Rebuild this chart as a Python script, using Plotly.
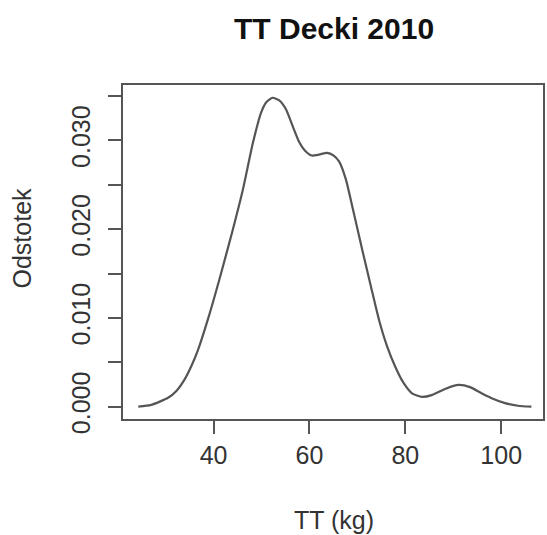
import plotly.graph_objects as go

# density curve
tt_kg = [24.3, 27.0, 30.5, 32.3, 34.0, 35.4, 36.7, 38.8, 41.2, 44.0, 46.1, 48.2,
         49.9, 51.0, 52.3, 53.7, 55.1, 56.5, 57.7, 59.0, 60.5, 62.0, 63.7, 65.0,
         66.2, 67.6, 69.0, 71.0, 72.8, 74.5, 76.2, 77.9, 79.6, 81.4, 83.5, 85.5,
         88.3, 91.1, 93.5, 95.9, 98.0, 100.8, 103.5, 106.3]
density = [0.0000, 0.0002, 0.0010, 0.0018, 0.0031, 0.0046, 0.0063, 0.0098, 0.0143,
           0.0199, 0.0244, 0.0297, 0.0331, 0.0343, 0.0348, 0.0345, 0.0335, 0.0316,
           0.0300, 0.0289, 0.0283, 0.0284, 0.0286, 0.0283, 0.0276, 0.0256, 0.0224,
           0.0177, 0.0136, 0.0098, 0.0068, 0.0045, 0.0027, 0.0015, 0.0011, 0.0013,
           0.0020, 0.00245, 0.0022, 0.0015, 0.00095, 0.0004, 0.0001, 0.0000]

x_ticks = [40, 60, 80, 100]
y_ticks = [0.000, 0.005, 0.010, 0.015, 0.020, 0.025, 0.030, 0.035]
y_labels = ["0.000", "", "0.010", "", "0.020", "", "0.030", ""]

title_text = "TT Decki 2010"
x_title = "TT (kg)"
y_title = "Odstotek"

FONT = "Liberation Sans, Arial, Helvetica, sans-serif"
AXC = "#555555"

fig = go.Figure()
fig.add_trace(go.Scatter(x=tt_kg, y=density, mode="lines",
                         line=dict(color="#555555", width=2.2, shape="spline", smoothing=0.6),
                         showlegend=False, hoverinfo="skip"))

fig.update_layout(
    width=547, height=535,
    margin=dict(l=123, r=2, t=85, b=116),
    paper_bgcolor="white", plot_bgcolor="white",
    font=dict(family=FONT, size=25, color="#333333"),
    xaxis=dict(range=[21.11, 108.72], tickvals=x_ticks, ticktext=[str(v) for v in x_ticks],
               showgrid=False, zeroline=False, showline=True, mirror=True,
               linecolor=AXC, linewidth=1.5, ticks="outside", ticklen=13,
               tickwidth=1.5, tickcolor=AXC, tickfont=dict(size=25, color="#333333")),
    yaxis=dict(range=[-0.00139, 0.03624], tickvals=y_ticks, ticktext=y_labels,
               showgrid=False, zeroline=False, showline=True, mirror=True,
               linecolor=AXC, linewidth=1.5, ticks="outside", ticklen=13,
               tickwidth=1.5, tickcolor=AXC, tickangle=-90, ticklabelstandoff=8,
               tickfont=dict(size=25, color="#333333")),
    annotations=[
        dict(text="<b>" + title_text + "</b>", x=335, y=535 - 28, xref="paper", yref="paper",
             showarrow=False, font=dict(size=30, color="#111111", family=FONT)),
        dict(text=x_title, x=335, y=535 - 520, xref="paper", yref="paper",
             showarrow=False, font=dict(size=25, color="#333333", family=FONT)),
        dict(text=y_title, x=22, y=535 - 238, xref="paper", yref="paper", textangle=-90,
             showarrow=False, font=dict(size=25, color="#333333", family=FONT)),
    ],
)

# convert pixel positions of annotations into paper coordinates
pw = 547 - 123 - 2
ph = 535 - 85 - 116
for a in fig.layout.annotations:
    a.x = (a.x - 123) / pw
    a.y = (a.y - 116) / ph
    a.xanchor = "center"
    a.yanchor = "middle"

fig.write_html("out.html")
